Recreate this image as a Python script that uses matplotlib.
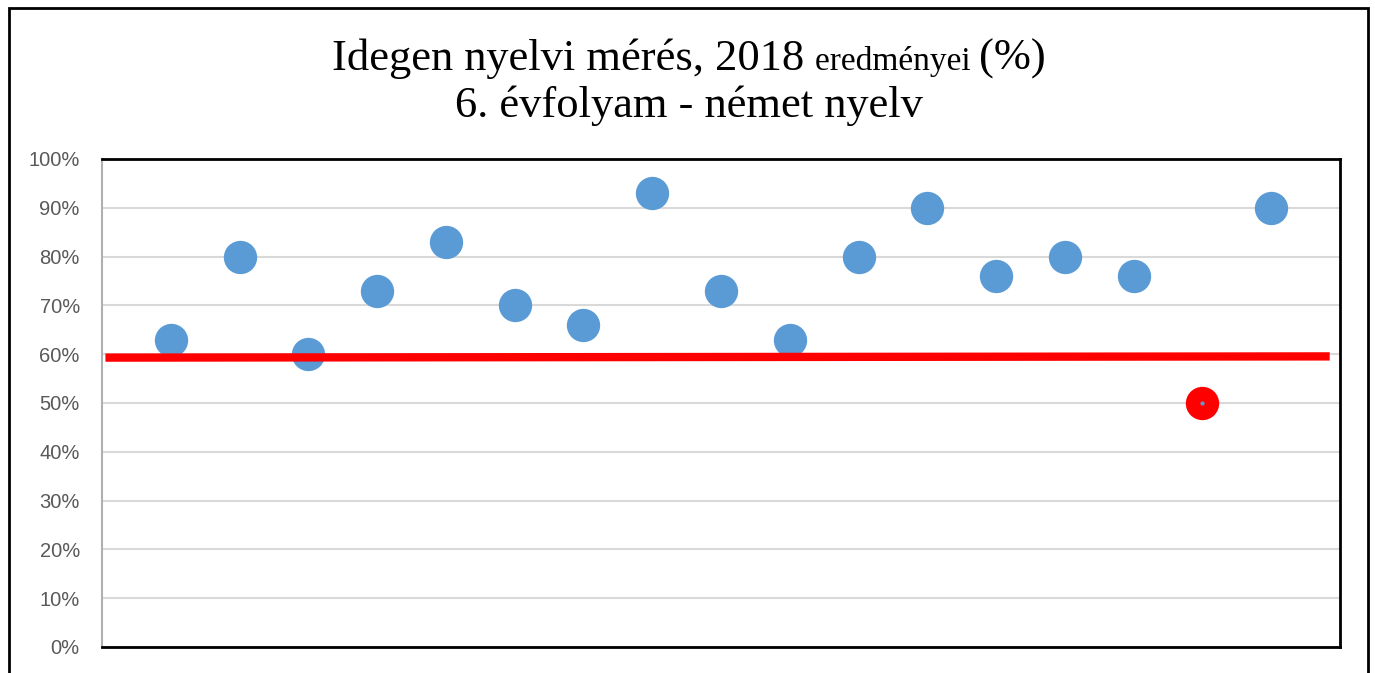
import matplotlib
matplotlib.use("Agg")
import matplotlib.pyplot as plt
from matplotlib.patches import Rectangle
from matplotlib.ticker import FuncFormatter

# data
positions = list(range(1, 18))
scores = [63, 80, 60, 73, 83, 70, 66, 93, 73, 63, 80, 90, 76, 80, 76, 50, 90]
highlight = 15  # index of the red point
avg_x = [0.05, 17.85]
avg_y = [59.3, 59.55]
yticks = list(range(0, 101, 10))

blue = "#5B9BD5"
fig = plt.figure(figsize=(13.75, 6.73), dpi=100)
ax = fig.add_axes([102/1375, 26/673, 1238/1375, 488/673])

ax.set_xlim(0, 18)
ax.set_ylim(0, 100)
ax.set_yticks(yticks)
ax.yaxis.set_major_formatter(FuncFormatter(lambda v, p: f"{v:.0f}%"))
ax.set_xticks([])
ax.tick_params(axis="y", length=0, pad=16, labelsize=14.5, labelcolor="#595959")
for lab in ax.get_yticklabels():
    lab.set_fontfamily("Liberation Sans")
ax.grid(axis="y", color="#d9d9d9", linewidth=1.5, zorder=0)
ax.set_axisbelow(True)

for s in ["top", "right", "bottom"]:
    ax.spines[s].set_color("black")
    ax.spines[s].set_linewidth(2)
ax.spines["left"].set_color("#b0b0b0")
ax.spines["left"].set_linewidth(1.5)

others = [i for i in range(len(scores)) if i != highlight]
ax.plot([positions[i] for i in others], [scores[i] for i in others], "o",
        color=blue, markersize=24, markeredgewidth=0, zorder=3)
ax.plot([positions[highlight]], [scores[highlight]], "o", color="red",
        markersize=24, markeredgewidth=0, zorder=3)
ax.plot([positions[highlight]], [scores[highlight]], "o", color=blue,
        markersize=3, markeredgewidth=0, zorder=4)
ax.plot(avg_x, avg_y, color="red", linewidth=6, solid_capstyle="butt", zorder=5)

# outer frame (bottom edge falls outside the picture)
fig.patches.append(Rectangle((8.5/1375, -0.05), 1359.5/1375, (673-8.5)/673 + 0.05,
                             transform=fig.transFigure, fill=False,
                             edgecolor="black", linewidth=2))

# title with mixed sizes on the first line
parts = [("Idegen nyelvi mérés, 2018 ", 32), ("eredményei ", 24), ("(%)", 32)]
fig.canvas.draw()
r = fig.canvas.get_renderer()
texts = []
for s, fs in parts:
    t = fig.text(0, 1 - 70/673, s, fontsize=fs, family="Liberation Serif",
                 va="baseline", ha="left")
    texts.append(t)
widths = [t.get_window_extent(r).width for t in texts]
x0 = (689 - sum(widths) / 2)
for t, w in zip(texts, widths):
    t.set_x(x0 / 1375)
    x0 += w
fig.text(689/1375, 1 - 117/673, "6. évfolyam - német nyelv", fontsize=32,
         family="Liberation Serif", va="baseline", ha="center")

fig.savefig("out.png", dpi=100)
